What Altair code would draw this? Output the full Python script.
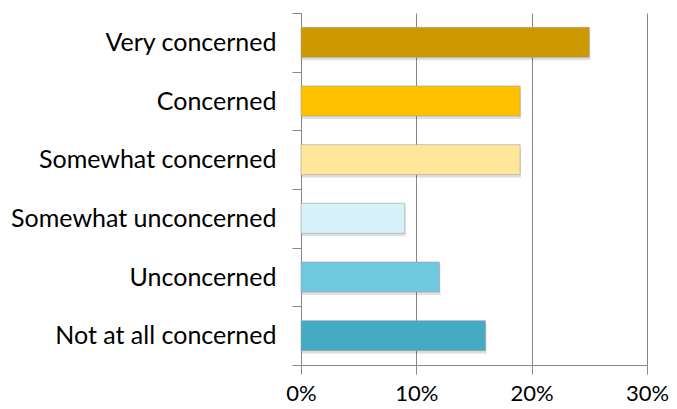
import altair as alt
import pandas as pd

categories = ["Very concerned", "Concerned", "Somewhat concerned",
              "Somewhat unconcerned", "Unconcerned", "Not at all concerned"]
values = [0.25, 0.19, 0.19, 0.09, 0.12, 0.16]
colors = ["#CC9900", "#FFC000", "#FFE699", "#D6F1F8", "#6FC9E0", "#45AAC4"]
x_ticks = [0, 0.1, 0.2, 0.3]

df = pd.DataFrame({"category": categories, "value": values})

FONT = "Lato"
GRAY = "#868686"

y_enc = alt.Y("category:N", sort=categories, title=None,
              scale=alt.Scale(paddingInner=0, paddingOuter=0),
              axis=alt.Axis(tickBand="extent", domainColor=GRAY, tickColor=GRAY,
                            tickSize=9, labelPadding=16, labelFontSize=25,
                            labelLimit=0, labelFont=FONT, labelColor="#000000",
                            grid=False))
x_enc = alt.X("value:Q", title=None,
              scale=alt.Scale(domain=[0, 0.3], nice=False),
              axis=alt.Axis(values=x_ticks, format=".0%", grid=True, gridColor=GRAY,
                            domainColor=GRAY, tickColor=GRAY, tickSize=9,
                            labelPadding=9, labelFontSize=22, labelFont=FONT,
                            labelFlush=False, labelColor="#000000"))

shadow = alt.Chart(df).mark_bar(height=30, color="#000000", opacity=0.12,
                                xOffset=1, yOffset=3).encode(y=y_enc, x=x_enc)

bars = alt.Chart(df).mark_bar(height=30, stroke="#a0a0a0", strokeWidth=0.6).encode(
    y=y_enc,
    x=x_enc,
    color=alt.Color("category:N", sort=categories,
                    scale=alt.Scale(domain=categories, range=colors), legend=None),
)

chart = alt.layer(shadow, bars).properties(
    width=346, height=352,
    padding={"left": 293, "top": 5, "right": 22, "bottom": 40},
    autosize=alt.AutoSizeParams(type="none"),
).configure_view(stroke=None)

chart.save("out.html", embed_options={"renderer": "svg", "actions": False})
